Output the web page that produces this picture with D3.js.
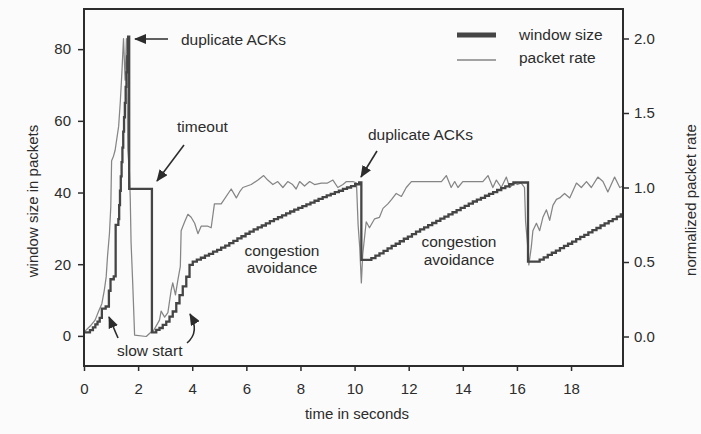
<!DOCTYPE html>
<html><head><meta charset="utf-8">
<script src="https://cdn.jsdelivr.net/npm/d3@7"></script>
<style>
html,body{margin:0;padding:0;background:#fbfbfb;}
svg{display:block;font-family:"Liberation Sans",Arial,Helvetica,sans-serif;}
</style></head><body>
<svg id="chart" width="701" height="434"></svg>
<script>
// ---- data ----
const xTicks = [0, 2, 4, 6, 8, 10, 12, 14, 16, 18];
const leftTicks = [0, 20, 40, 60, 80];
const rightTicks = [0.0, 0.5, 1.0, 1.5, 2.0];
const seriesNames = ["window size", "packet rate"];

// window size in packets (step series)
const windowTime = [
  0.00, 0.22, 0.33, 0.42, 0.50, 0.58, 0.66, 0.80, 0.92, 0.98, 1.10, 1.17, 1.27,
  1.30, 1.33, 1.36, 1.39, 1.42, 1.45, 1.48, 1.51, 1.54, 1.57, 1.60, 1.63, 1.67,
  2.51, 2.67, 2.79, 2.91, 3.04, 3.16, 3.28, 3.41, 3.53, 3.65, 3.78, 3.90,
  4.02, 4.17, 4.32, 4.47, 4.62, 4.77, 4.92, 5.07, 5.22, 5.37, 5.52, 5.67, 5.82, 5.97,
  6.12, 6.27, 6.42, 6.57, 6.72, 6.87, 7.02, 7.17, 7.32, 7.47, 7.62, 7.77, 7.92,
  8.07, 8.22, 8.37, 8.52, 8.67, 8.82, 8.97, 9.12, 9.27, 9.42, 9.57, 9.72, 9.87,
  10.02, 10.17, 10.25,
  10.62, 10.77, 10.92, 11.07, 11.22, 11.37, 11.52, 11.67, 11.82, 11.97, 12.12, 12.27,
  12.42, 12.57, 12.72, 12.87, 13.02, 13.17, 13.32, 13.47, 13.62, 13.77, 13.92, 14.07,
  14.22, 14.37, 14.52, 14.67, 14.82, 14.97, 15.12, 15.27, 15.42, 15.57, 15.72, 15.87,
  16.41,
  16.84, 16.99, 17.14, 17.29, 17.44, 17.59, 17.74, 17.89, 18.04, 18.19, 18.34, 18.49,
  18.64, 18.79, 18.94, 19.09, 19.24, 19.39, 19.54, 19.69, 19.84, 19.92
];
const windowSize = [
  1.0, 1.6, 2.4, 3.2, 4.0, 5.0, 7.6, 8.2, 12.6, 15.8, 16.6, 31.0, 32.6,
  36.5, 40.5, 44.5, 48.5, 52.5, 57.0, 61.0, 65.0, 69.5, 73.5, 78.0, 83.5, 41.0,
  1.0, 1.7, 2.2, 3.1, 4.0, 5.4, 6.8, 9.1, 11.4, 13.8, 16.5, 19.8,
  20.7, 21.3, 21.8, 22.4, 22.9, 23.5, 24.0, 24.6, 25.2, 25.9, 26.5, 27.2, 27.8, 28.5,
  29.1, 29.7, 30.3, 30.8, 31.4, 32.0, 32.6, 33.1, 33.6, 34.2, 34.7, 35.2, 35.7,
  36.2, 36.7, 37.2, 37.7, 38.2, 38.7, 39.2, 39.6, 40.1, 40.5, 41.0, 41.4, 41.8,
  42.3, 42.8, 21.2,
  21.7, 22.4, 23.0, 23.7, 24.4, 25.1, 25.7, 26.4, 27.1, 27.7, 28.4, 29.1,
  29.7, 30.3, 30.9, 31.5, 32.1, 32.7, 33.3, 33.9, 34.5, 35.1, 35.7, 36.3,
  36.9, 37.5, 38.0, 38.5, 39.1, 39.6, 40.1, 40.7, 41.2, 41.7, 42.3, 42.8,
  20.7,
  21.3, 21.9, 22.6, 23.2, 23.8, 24.5, 25.1, 25.7, 26.3, 27.0, 27.6, 28.2,
  28.9, 29.5, 30.1, 30.8, 31.4, 32.0, 32.6, 33.3, 33.9, 33.9
];

// normalized packet rate
const rateTime = [
  0.00, 0.23, 0.41, 0.54, 0.66, 0.75, 0.82, 0.87, 0.94, 0.99, 1.02, 1.09, 1.15, 1.28,
  1.34, 1.40, 1.46, 1.52, 1.57, 1.62, 1.68, 1.71, 1.74, 1.80, 1.87, 2.30, 2.48,
  2.54, 2.79, 2.85, 2.98, 3.10, 3.22, 3.28, 3.38, 3.47, 3.56, 3.59, 3.72, 3.84, 3.96,
  4.09, 4.21, 4.33, 4.58, 4.70, 4.82, 5.07, 5.44, 5.63, 5.75, 5.87, 6.18, 6.43, 6.64,
  6.79, 6.98, 7.16, 7.35, 7.53, 7.71, 7.84, 7.97, 8.15, 8.34, 8.52, 8.77, 9.00, 9.20,
  9.38, 9.57, 9.70, 9.94, 10.07, 10.13, 10.19, 10.25, 10.30, 10.43, 10.55, 10.74,
  10.92, 11.05, 11.23, 11.37, 11.54, 11.73, 11.91, 12.10, 12.28, 12.50, 12.72, 12.95,
  13.21, 13.39, 13.57, 13.70, 13.82, 14.00, 14.25, 14.50, 14.74, 14.93, 15.11, 15.24,
  15.42, 15.61, 15.73, 15.91, 16.02, 16.16, 16.28, 16.32, 16.41, 16.44, 16.53, 16.59,
  16.72, 16.84, 16.96, 17.09, 17.21, 17.33, 17.46, 17.58, 17.76, 17.95, 18.20, 18.38,
  18.57, 18.75, 18.99, 19.18, 19.36, 19.61, 19.80, 19.92
];
const rateValue = [
  0.03, 0.07, 0.11, 0.17, 0.22, 0.31, 0.40, 0.54, 0.69, 0.87, 1.18, 1.21, 1.25, 1.41,
  1.57, 1.77, 2.00, 1.72, 2.00, 1.25, 1.10, 0.92, 0.63, 0.36, 0.01, 0.00, 0.03,
  0.03, 0.11, 0.17, 0.13, 0.16, 0.31, 0.36, 0.28, 0.38, 0.47, 0.71, 0.77, 0.82, 0.80,
  0.76, 0.69, 0.74, 0.74, 0.73, 0.89, 0.89, 0.99, 0.93, 0.97, 1.00, 1.02, 1.05, 1.08,
  1.05, 1.02, 1.04, 1.00, 1.04, 1.02, 0.99, 1.04, 1.01, 1.04, 1.02, 1.03, 1.03, 1.05,
  1.00, 1.02, 1.04, 1.04, 1.03, 0.75, 0.60, 0.36, 0.55, 0.77, 0.73, 0.79,
  0.80, 0.86, 0.89, 0.92, 0.96, 0.94, 1.00, 1.04, 1.04, 1.04, 1.04, 1.04,
  1.04, 1.08, 1.00, 1.04, 1.00, 1.04, 1.04, 1.04, 1.04, 1.08, 1.00, 1.05,
  1.00, 1.07, 1.00, 1.03, 1.02, 1.03, 1.00, 0.77, 0.58, 0.48, 0.60, 0.71,
  0.76, 0.71, 0.80, 0.85, 0.78, 0.88, 0.92, 0.93, 0.96, 0.93, 1.03, 1.00,
  1.04, 1.00, 1.07, 1.04, 0.97, 1.07, 1.00, 1.01
];

// ---- layout ----
const W = 701, H = 434;
const L = 84, R = 623, T = 9, B = 366;
const ink = "#2c2c2c", dark = "#454545", light = "#858585";

const svg = d3.select("#chart");
svg.append("rect").attr("width", W).attr("height", H).attr("fill", "#fbfbfb");

const x = d3.scaleLinear().domain([0, 19.92]).range([L, R]);
const yL = d3.scaleLinear().domain([-8.4, 91.2]).range([B, T]);
const yR = d3.scaleLinear().domain([-0.198, 2.198]).range([B, T]);

svg.append("defs").append("clipPath").attr("id", "clip")
  .append("rect").attr("x", L).attr("y", T).attr("width", R - L).attr("height", B - T);

// lines
const windowData = windowTime.map((t, i) => [t, windowSize[i]]);
const rateData = rateTime.map((t, i) => [t, rateValue[i]]);

const gLines = svg.append("g").attr("clip-path", "url(#clip)");
gLines.append("path").datum(rateData)
  .attr("fill", "none").attr("stroke", light).attr("stroke-width", 1.25)
  .attr("stroke-linejoin", "round")
  .attr("d", d3.line().x(d => x(d[0])).y(d => yR(d[1])));
gLines.append("path").datum(windowData)
  .attr("fill", "none").attr("stroke", dark).attr("stroke-width", 2.3)
  .attr("d", d3.line().curve(d3.curveStepAfter).x(d => x(d[0])).y(d => yL(d[1])));

// frame
svg.append("rect").attr("x", L).attr("y", T).attr("width", R - L).attr("height", B - T)
  .attr("fill", "none").attr("stroke", ink).attr("stroke-width", 2);

function styleAxis(g) {
  g.select(".domain").remove();
  g.selectAll(".tick line").attr("stroke", ink).attr("stroke-width", 1.5);
  g.selectAll(".tick text").attr("fill", ink).attr("font-size", 15)
    .attr("font-family", "'Liberation Sans', Arial, sans-serif");
}
svg.append("g").attr("transform", `translate(0,${B})`)
  .call(d3.axisBottom(x).tickValues(xTicks).tickSize(5).tickPadding(12).tickFormat(d3.format("d")))
  .call(styleAxis);
svg.append("g").attr("transform", `translate(${L},0)`)
  .call(d3.axisLeft(yL).tickValues(leftTicks).tickSize(6).tickPadding(7))
  .call(styleAxis);
svg.append("g").attr("transform", `translate(${R},0)`)
  .call(d3.axisRight(yR).tickValues(rightTicks).tickSize(6).tickPadding(5).tickFormat(d3.format(".1f")))
  .call(styleAxis);

// axis titles
const font = 15, afont = 15.5;
svg.append("text").attr("x", 357).attr("y", 419).attr("text-anchor", "middle")
  .attr("font-size", font).attr("fill", ink).text("time in seconds");
svg.append("text").attr("transform", "translate(38,201) rotate(-90)").attr("text-anchor", "middle")
  .attr("font-size", font).attr("fill", ink).text("window size in packets");
svg.append("text").attr("transform", "translate(696,200) rotate(-90)").attr("text-anchor", "middle")
  .attr("font-size", font).attr("fill", ink).text("normalized packet rate");

// legend
svg.append("line").attr("x1", 457).attr("x2", 496).attr("y1", 35).attr("y2", 35)
  .attr("stroke", dark).attr("stroke-width", 5);
svg.append("line").attr("x1", 457).attr("x2", 496).attr("y1", 60).attr("y2", 60)
  .attr("stroke", light).attr("stroke-width", 1.3);
svg.append("text").attr("x", 519).attr("y", 40).attr("font-size", afont).attr("fill", ink).text(seriesNames[0]);
svg.append("text").attr("x", 519).attr("y", 63).attr("font-size", afont).attr("fill", ink).text(seriesNames[1]);

// arrow marker
svg.select("defs").append("marker").attr("id", "head")
  .attr("viewBox", "0 0 12 10").attr("refX", 11).attr("refY", 5)
  .attr("markerWidth", 12).attr("markerHeight", 10).attr("markerUnits", "userSpaceOnUse")
  .attr("orient", "auto")
  .append("path").attr("d", "M0,0 L12,5 L0,10 Z").attr("fill", ink);

function arrow(d) {
  svg.append("path").attr("d", d).attr("fill", "none").attr("stroke", ink)
    .attr("stroke-width", 1.6).attr("marker-end", "url(#head)");
}
function label(tx, ty, s, anchor) {
  svg.append("text").attr("x", tx).attr("y", ty).attr("font-size", afont)
    .attr("fill", ink).attr("text-anchor", anchor || "start").text(s);
}

// annotations
label(181, 45, "duplicate ACKs");
arrow("M168,39 L135,39");
label(177, 132, "timeout");
arrow("M184,145 L157,181");
label(117, 356, "slow start");
arrow("M118,338 L109,317");
arrow("M187,343 Q200,332 190,314");
label(368, 140, "duplicate ACKs");
arrow("M377,151 L361,177");
label(282, 256, "congestion", "middle");
label(282, 273, "avoidance", "middle");
label(459, 247, "congestion", "middle");
label(459, 265, "avoidance", "middle");
</script>
</body></html>
